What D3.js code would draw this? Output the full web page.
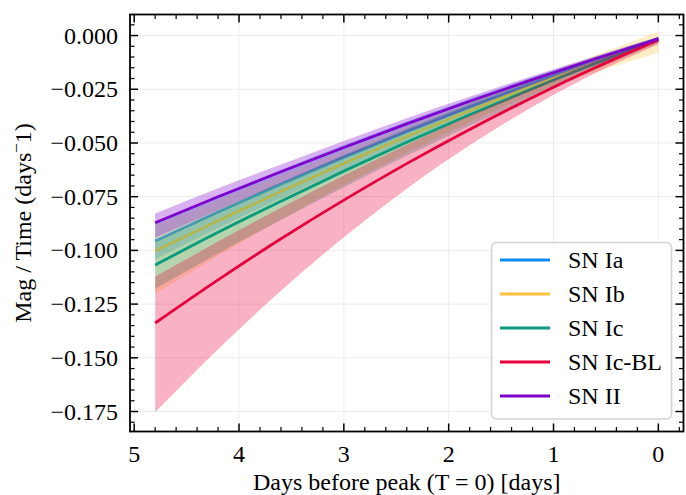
<!DOCTYPE html>
<html>
<head>
<meta charset="utf-8">
<script src="https://cdn.jsdelivr.net/npm/d3@7/dist/d3.min.js"></script>
<style>
  html, body { margin: 0; padding: 0; background: #fff; }
  svg { display: block; }
  text { font-family: "Liberation Serif", "Times New Roman", "DejaVu Serif", serif; fill: #000; }
</style>
</head>
<body>
<svg id="chart" width="686" height="495"></svg>
<script>
// ---- data ----
const days = [4.8, 4.2, 3.6, 3.0, 2.4, 1.8, 1.2, 0.6, 0.0];
const seriesNames = ["SN Ia", "SN Ib", "SN Ic", "SN Ic-BL", "SN II"];
const seriesColors = ["#0c8cf2", "#ffc23e", "#0a9b7c", "#e8003d", "#7e00cc"];

const iaMid = [-0.0956, -0.0821, -0.0692, -0.0567, -0.0447, -0.0332, -0.0222, -0.0116, -0.0015];
const iaHi  = [-0.0871, -0.0745, -0.0626, -0.0510, -0.0400, -0.0294, -0.0193, -0.0097, -0.0005];
const iaLo  = [-0.1041, -0.0897, -0.0758, -0.0624, -0.0494, -0.0370, -0.0251, -0.0135, -0.0025];

const ibMid = [-0.1003, -0.0862, -0.0726, -0.0595, -0.0470, -0.0350, -0.0234, -0.0125, -0.0020];
const ibHi  = [-0.0883, -0.0764, -0.0648, -0.0534, -0.0423, -0.0314, -0.0203, -0.0092,  0.0019];
const ibLo  = [-0.1203, -0.1025, -0.0856, -0.0696, -0.0545, -0.0403, -0.0274, -0.0170, -0.0080];

const icMid = [-0.1068, -0.0916, -0.0771, -0.0631, -0.0497, -0.0369, -0.0247, -0.0130, -0.0020];
const icHi  = [-0.0957, -0.0817, -0.0684, -0.0556, -0.0434, -0.0318, -0.0208, -0.0103, -0.0005];
const icLo  = [-0.1179, -0.1015, -0.0858, -0.0706, -0.0560, -0.0420, -0.0286, -0.0157, -0.0035];

const icblMid = [-0.1338, -0.1137, -0.0946, -0.0766, -0.0596, -0.0437, -0.0288, -0.0149, -0.0020];
const icblHi  = [-0.1123, -0.0959, -0.0801, -0.0651, -0.0508, -0.0372, -0.0243, -0.0120, -0.0005];
const icblLo  = [-0.1753, -0.1460, -0.1188, -0.0939, -0.0713, -0.0511, -0.0331, -0.0174, -0.0040];

const iiMid = [-0.0871, -0.0750, -0.0634, -0.0521, -0.0411, -0.0306, -0.0205, -0.0108, -0.0015];
const iiHi  = [-0.0828, -0.0711, -0.0600, -0.0491, -0.0385, -0.0285, -0.0188, -0.0096, -0.0007];
const iiLo  = [-0.0941, -0.0813, -0.0689, -0.0569, -0.0451, -0.0339, -0.0230, -0.0126, -0.0025];

const xTicks = [5, 4, 3, 2, 1, 0];
const yTicks = [0.000, -0.025, -0.050, -0.075, -0.100, -0.125, -0.150, -0.175];
const xLabel = "Days before peak (T = 0) [days]";

// ---- layout ----
const svg = d3.select("#chart");
const L = 130, R = 683.5, T = 14.5, B = 431.5;
const x = d3.scaleLinear().domain([5.04, -0.24]).range([L, R]);
const y = d3.scaleLinear().domain([-0.1843, 0.0098]).range([B, T]);

const series = [
  {mid: iaMid, hi: iaHi, lo: iaLo},
  {mid: ibMid, hi: ibHi, lo: ibLo},
  {mid: icMid, hi: icHi, lo: icLo},
  {mid: icblMid, hi: icblHi, lo: icblLo},
  {mid: iiMid, hi: iiHi, lo: iiLo}
].map((s, i) => ({...s, name: seriesNames[i], color: seriesColors[i]}));

// grid
const grid = svg.append("g");
xTicks.forEach(t => grid.append("line").attr("x1", x(t)).attr("x2", x(t)).attr("y1", T).attr("y2", B)
  .attr("stroke", "#ededed").attr("stroke-width", 1));
yTicks.forEach(t => grid.append("line").attr("x1", L).attr("x2", R).attr("y1", y(t)).attr("y2", y(t))
  .attr("stroke", "#ededed").attr("stroke-width", 1));

// clip
svg.append("clipPath").attr("id", "clip").append("rect").attr("x", L).attr("y", T).attr("width", R - L).attr("height", B - T);
const plot = svg.append("g").attr("clip-path", "url(#clip)");

const area = d3.area().x(d => x(d.t)).y0(d => y(d.lo)).y1(d => y(d.hi)).curve(d3.curveMonotoneX);
const line = d3.line().x(d => x(d.t)).y(d => y(d.v)).curve(d3.curveMonotoneX);

series.forEach(s => {
  const pts = days.map((t, i) => ({t, lo: s.lo[i], hi: s.hi[i], v: s.mid[i]})).sort((a, b) => b.t - a.t);
  plot.append("path").datum(pts).attr("d", area).attr("fill", s.color).attr("fill-opacity", 0.3).attr("stroke", "none");
  plot.append("path").datum(pts).attr("d", line).attr("fill", "none").attr("stroke", s.color).attr("stroke-width", 2.8);
});

// ticks (inward, all four sides)
const tickG = svg.append("g").attr("stroke", "#000");
const xMinor = d3.range(-0.2, 5.05, 0.2).map(v => Math.round(v * 10) / 10).filter(v => !xTicks.includes(v) && x(v) >= L - 0.1 && x(v) <= R + 0.1);
const yMinor = d3.range(0.005, -0.185, -0.005).map(v => Math.round(v * 1000) / 1000).filter(v => !yTicks.some(t => Math.abs(t - v) < 1e-9) && y(v) >= T && y(v) <= B);
const MAJ = 8, MIN = 4.5;
xTicks.forEach(t => {
  tickG.append("line").attr("x1", x(t)).attr("x2", x(t)).attr("y1", B).attr("y2", B - MAJ).attr("stroke-width", 1.5);
  tickG.append("line").attr("x1", x(t)).attr("x2", x(t)).attr("y1", T).attr("y2", T + MAJ).attr("stroke-width", 1.5);
});
xMinor.forEach(t => {
  tickG.append("line").attr("x1", x(t)).attr("x2", x(t)).attr("y1", B).attr("y2", B - MIN).attr("stroke-width", 1.2);
  tickG.append("line").attr("x1", x(t)).attr("x2", x(t)).attr("y1", T).attr("y2", T + MIN).attr("stroke-width", 1.2);
});
yTicks.forEach(t => {
  tickG.append("line").attr("x1", L).attr("x2", L + MAJ).attr("y1", y(t)).attr("y2", y(t)).attr("stroke-width", 1.5);
  tickG.append("line").attr("x1", R).attr("x2", R - MAJ).attr("y1", y(t)).attr("y2", y(t)).attr("stroke-width", 1.5);
});
yMinor.forEach(t => {
  tickG.append("line").attr("x1", L).attr("x2", L + MIN).attr("y1", y(t)).attr("y2", y(t)).attr("stroke-width", 1.2);
  tickG.append("line").attr("x1", R).attr("x2", R - MIN).attr("y1", y(t)).attr("y2", y(t)).attr("stroke-width", 1.2);
});

// frame
svg.append("rect").attr("x", L).attr("y", T).attr("width", R - L).attr("height", B - T)
  .attr("fill", "none").attr("stroke", "#000").attr("stroke-width", 1.8);

// tick labels
const fmtY = v => (v < 0 ? "\u2212" : "") + Math.abs(v).toFixed(3);
xTicks.forEach(t => svg.append("text").attr("x", x(t)).attr("y", 462).attr("text-anchor", "middle")
  .attr("font-size", 24).text(t));
yTicks.forEach(t => svg.append("text").attr("x", 118).attr("y", y(t) + 8).attr("text-anchor", "end")
  .attr("font-size", 24).text(fmtY(t)));

// axis labels
svg.append("text").attr("x", (L + R) / 2).attr("y", 490).attr("text-anchor", "middle").attr("font-size", 24).text(xLabel);
const yl = svg.append("text").attr("transform", `translate(31,${(T + B) / 2}) rotate(-90)`).attr("text-anchor", "middle").attr("font-size", 24);
yl.append("tspan").text("Mag / Time (days");
yl.append("tspan").attr("dy", -9).attr("font-size", 17).text("\u2212");
yl.append("tspan").attr("dy", 9).text("1)");

// legend
const lg = svg.append("g");
lg.append("rect").attr("x", 491.5).attr("y", 242.5).attr("width", 180).attr("height", 176.5).attr("rx", 5)
  .attr("fill", "#fff").attr("fill-opacity", 0.85).attr("stroke", "#d4d4d4").attr("stroke-width", 1.6);
series.forEach((s, i) => {
  const yy = 260 + i * 34;
  lg.append("line").attr("x1", 500).attr("x2", 550).attr("y1", yy).attr("y2", yy).attr("stroke", s.color).attr("stroke-width", 2.8);
  lg.append("text").attr("x", 568).attr("y", yy + 8).attr("font-size", 24).text(s.name);
});
</script>
</body>
</html>
